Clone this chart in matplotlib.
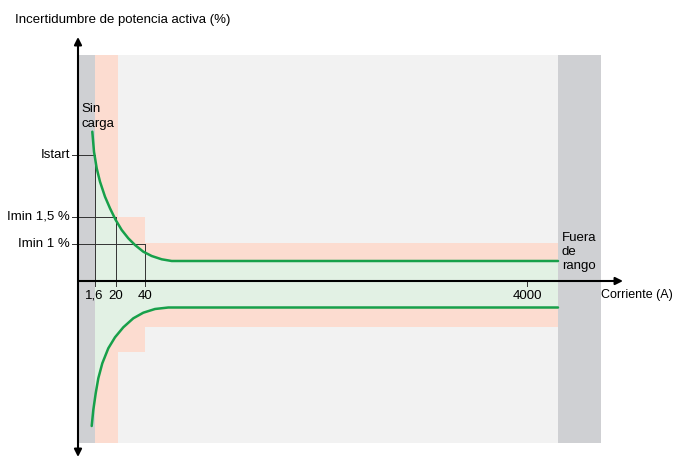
import numpy as np
import matplotlib
matplotlib.use("Agg")
import matplotlib.pyplot as plt

plt.rcParams['font.family'] = ['Liberation Sans', 'DejaVu Sans']

# ----------------------------
# Schematic data (x: position along current axis, y: uncertainty, axis at 0)
# ----------------------------

title = "Incertidumbre de potencia activa (%)"
xlabel = "Corriente (A)"

tick_labels = ["1,6", "20", "40", "4000"]
tick_pos = [16.5, 37.5, 67, 449]

level_labels = ["Istart", "Imin 1,5 %", "Imin 1 %"]
level_pos = [126, 64, 37]
# which current tick each level line goes to
level_tick = [16.5, 37.5, 67]

# zones
zone_top = 226
zone_bottom = -162
no_load_end = 16.5
range_end = 480
out_range_end = 523

# pink tolerance steps: (x start, x end, y top, y bottom)
pink_x0 = [16.5, 40, 67]
pink_x1 = [40, 67, 480]
pink_top = [226, 64, 38]
pink_bot = [-162, -71, -46]

# upper uncertainty curve
upper_x = [14.3, 16.0, 18.7, 22.0, 27.0, 32.0, 37.7, 43.7, 50.3, 57.0,
           65.3, 73.7, 83.7, 93.7, 480]
upper_y = [149.3, 129.3, 112.7, 99.3, 84.3, 72.7, 61.0, 51.0, 42.7, 36.0,
           29.3, 25.0, 21.7, 20.0, 20.0]

# lower uncertainty curve
lower_x = [13.7, 15.3, 17.7, 20.3, 24.3, 30.3, 37.0, 45.3, 55.3, 65.3,
           77.0, 90.3, 480]
lower_y = [-145.0, -129.0, -112.3, -97.3, -82.3, -67.3, -56.3, -46.3, -37.3,
           -31.7, -28.0, -26.5, -26.5]

# ----------------------------
# Figure
# ----------------------------

fig = plt.figure(figsize=(6.75, 4.59), dpi=100)
ax = fig.add_axes([0, 0, 1, 1])
ax.set_xlim(-78, 597)
ax.set_ylim(-178, 281)
ax.axis("off")

light_gray = "#f2f2f2"
dark_gray = "#cfd0d3"
pink = "#fcdcd0"
green_fill = "#e2f1e4"
green_line = "#17a04a"
line_col = "#333333"
fs = 9.5

# background
ax.fill_between([0, range_end], zone_bottom, zone_top, color=light_gray, lw=0, zorder=0)

# pink tolerance band
for x0, x1, t, b in zip(pink_x0, pink_x1, pink_top, pink_bot):
    ax.fill_between([x0, x1], b, t, color=pink, lw=0, zorder=1)

# green region between curves
poly_x = np.concatenate([upper_x, lower_x[::-1]])
poly_y = np.concatenate([upper_y, lower_y[::-1]])
ax.fill(poly_x, poly_y, color=green_fill, lw=0, zorder=2)

# gray zones
ax.fill_between([0, no_load_end], zone_bottom, zone_top, color=dark_gray, lw=0, zorder=3)
ax.fill_between([range_end, out_range_end], zone_bottom, zone_top, color=dark_gray, lw=0, zorder=3)

# curves
ax.plot(upper_x, upper_y, color=green_line, lw=1.8, zorder=5,
        solid_capstyle="round", solid_joinstyle="round")
ax.plot(lower_x, lower_y, color=green_line, lw=1.8, zorder=5,
        solid_capstyle="round", solid_joinstyle="round")

# guide lines
for lab, y, xt in zip(level_labels, level_pos, level_tick):
    ax.plot([-6, xt], [y, y], color=line_col, lw=0.7, zorder=4)
    ax.plot([xt, xt], [y, -5], color=line_col, lw=0.7, zorder=4)
    ax.text(-8, y, lab, ha="right", va="center", fontsize=fs, zorder=6)

ax.plot([tick_pos[-1], tick_pos[-1]], [0, -5], color=line_col, lw=0.7, zorder=4)

for lab, x in zip(tick_labels, tick_pos):
    ax.text(x, -15, lab, ha="center", va="center", fontsize=fs, zorder=6)

# axes with arrows
ax.annotate("", xy=(0, 244), xytext=(0, -176),
            arrowprops=dict(arrowstyle="<|-|>", lw=1.5, color="black",
                            mutation_scale=11, shrinkA=0, shrinkB=0), zorder=7)
ax.annotate("", xy=(545, 0), xytext=(0, 0),
            arrowprops=dict(arrowstyle="-|>", lw=1.5, color="black",
                            mutation_scale=11, shrinkA=0, shrinkB=0), zorder=7)

# texts
ax.text(-63, 261, title, ha="left", va="center", fontsize=fs)
ax.text(523, -14, xlabel, ha="left", va="center", fontsize=9)
ax.text(3.5, 164.5, "Sin\ncarga", ha="left", va="center", fontsize=fs,
        linespacing=1.25, zorder=6)
ax.text(484, 29, "Fuera\nde\nrango", ha="left", va="center", fontsize=fs,
        linespacing=1.2, zorder=6)

plt.savefig("out.png", dpi=100)
